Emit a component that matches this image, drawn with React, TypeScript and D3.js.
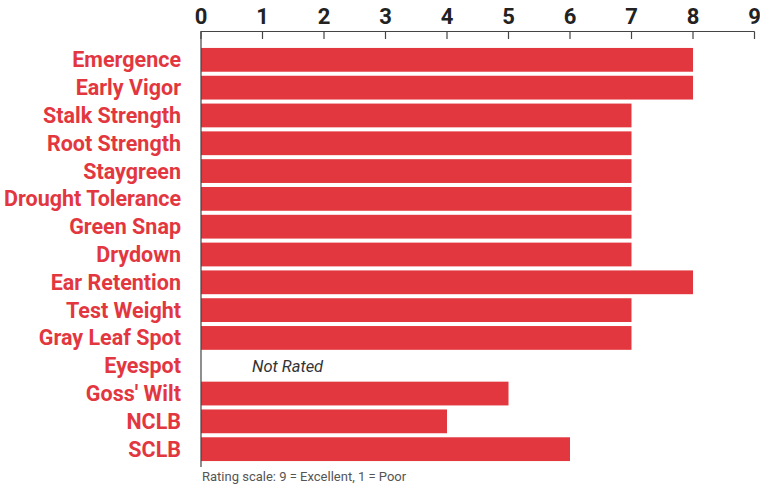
import * as React from "react";
import * as d3 from "d3";

const traits = [
  "Emergence",
  "Early Vigor",
  "Stalk Strength",
  "Root Strength",
  "Staygreen",
  "Drought Tolerance",
  "Green Snap",
  "Drydown",
  "Ear Retention",
  "Test Weight",
  "Gray Leaf Spot",
  "Eyespot",
  "Goss' Wilt",
  "NCLB",
  "SCLB",
];
// null = not rated
const ratings: (number | null)[] = [8, 8, 7, 7, 7, 7, 7, 7, 8, 7, 7, null, 5, 4, 6];
const tickValues = [0, 1, 2, 3, 4, 5, 6, 7, 8, 9];

const RED = "#e3373f";
const FONT = "Roboto, 'Liberation Sans', sans-serif";

export default function App() {
  const width = 760;
  const height = 492;

  const x = d3.scaleLinear().domain([0, 9]).range([201, 754.5]);
  const y = d3
    .scaleBand()
    .domain(traits)
    .range([46, 463])
    .paddingInner(0.145)
    .paddingOuter(0.07);

  return (
    <svg width={width} height={height} style={{ position: "absolute", left: 0, top: 0 }}>
      <rect width={width} height={height} fill="#fff" />
      {/* top axis */}
      <line x1={x(0)} x2={x(9)} y1={31.5} y2={31.5} stroke="#444" strokeWidth={1.2} />
      {tickValues.map((t) => (
        <g key={t} transform={`translate(${x(t)},0)`}>
          <line y1={31.5} y2={39} stroke="#444" strokeWidth={1.2} />
          <text
            y={24}
            textAnchor="middle"
            fontFamily={FONT}
            fontWeight="bold"
            fontSize={22}
            fill="#222"
          >
            {t}
          </text>
        </g>
      ))}
      {/* bars */}
      {traits.map((d, i) => {
        const v = ratings[i];
        const yy = y(d)!;
        return (
          <g key={d}>
            {v !== null ? (
              <rect x={x(0)} y={yy} width={x(v) - x(0)} height={y.bandwidth()} fill={RED} />
            ) : (
              <text
                x={252}
                y={yy + y.bandwidth() / 2 + 6}
                fontFamily={FONT}
                fontStyle="italic"
                fontSize={16.5}
                fill="#333"
              >
                Not Rated
              </text>
            )}
            <text
              x={181}
              y={yy + y.bandwidth() / 2 + 7.5}
              textAnchor="end"
              fontFamily={FONT}
              fontWeight="bold"
              fontSize={21.5}
              fill={RED}
            >
              {d}
            </text>
          </g>
        );
      })}
      {/* left axis line */}
      <line x1={x(0)} x2={x(0)} y1={31} y2={467} stroke="#444" strokeWidth={1.2} />
      <text x={202} y={481} fontFamily={FONT} fontSize={13} fill="#555">
        Rating scale: 9 = Excellent, 1 = Poor
      </text>
    </svg>
  );
}
